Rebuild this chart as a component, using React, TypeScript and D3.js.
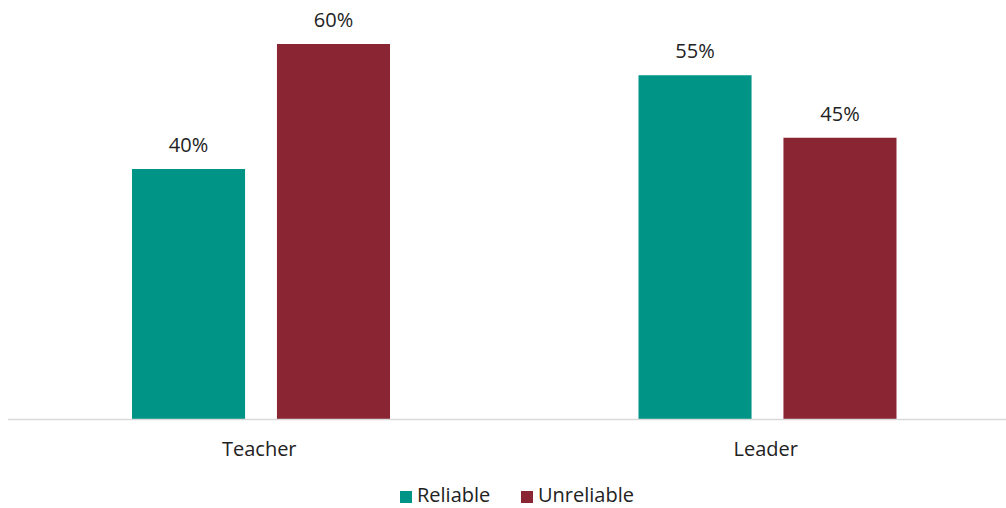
import React from "react";
import * as d3 from "d3";

const categories = ["Teacher", "Leader"];
const seriesNames = ["Reliable", "Unreliable"];
const reliable = [40, 55];
const unreliable = [60, 45];
const colors = ["#009487", "#8A2533"];

const W = 1006;
const H = 508;
const FONT = "'Open Sans', 'Liberation Sans', Arial, sans-serif";

export default function App() {
  const values = [reliable, unreliable];
  const x0 = d3.scaleBand<string>().domain(categories).range([8, 1021]);
  const x1 = d3.scaleBand<string>().domain(seriesNames).range([124, 382]).paddingInner(0.22);
  const y = d3.scaleLinear().domain([0, 60]).range([419, 44]);

  return (
    <svg width={W} height={H} style={{ position: "absolute", left: 0, top: 0, background: "#fff" }}>
      {categories.map((c, ci) => (
        <g key={c} transform={`translate(${x0(c)},0)`}>
          {seriesNames.map((s, si) => {
            const v = values[si][ci];
            const bx = x1(s)!;
            return (
              <g key={s}>
                <rect x={bx} y={y(v)} width={x1.bandwidth()} height={y(0) - y(v)} fill={colors[si]} />
                <text
                  x={bx + x1.bandwidth() / 2}
                  y={y(v) - 17}
                  textAnchor="middle"
                  fontFamily={FONT}
                  fontSize={20}
                  fill="#222"
                >
                  {v}%
                </text>
              </g>
            );
          })}
          <text x={x0.bandwidth() / 2 - 2} y={456} textAnchor="middle" fontFamily={FONT} fontSize={20} fill="#222">
            {c}
          </text>
        </g>
      ))}
      <line x1={8} x2={W} y1={419.5} y2={419.5} stroke="#d9d9d9" strokeWidth={1.5} />
      <g>
        {seriesNames.map((s, i) => {
          const lx = i === 0 ? 400 : 521;
          return (
            <g key={s}>
              <rect x={lx} y={491} width={12} height={12} fill={colors[i]} />
              <text x={lx + 17} y={502} fontFamily={FONT} fontSize={20} fill="#222">
                {s}
              </text>
            </g>
          );
        })}
      </g>
    </svg>
  );
}
